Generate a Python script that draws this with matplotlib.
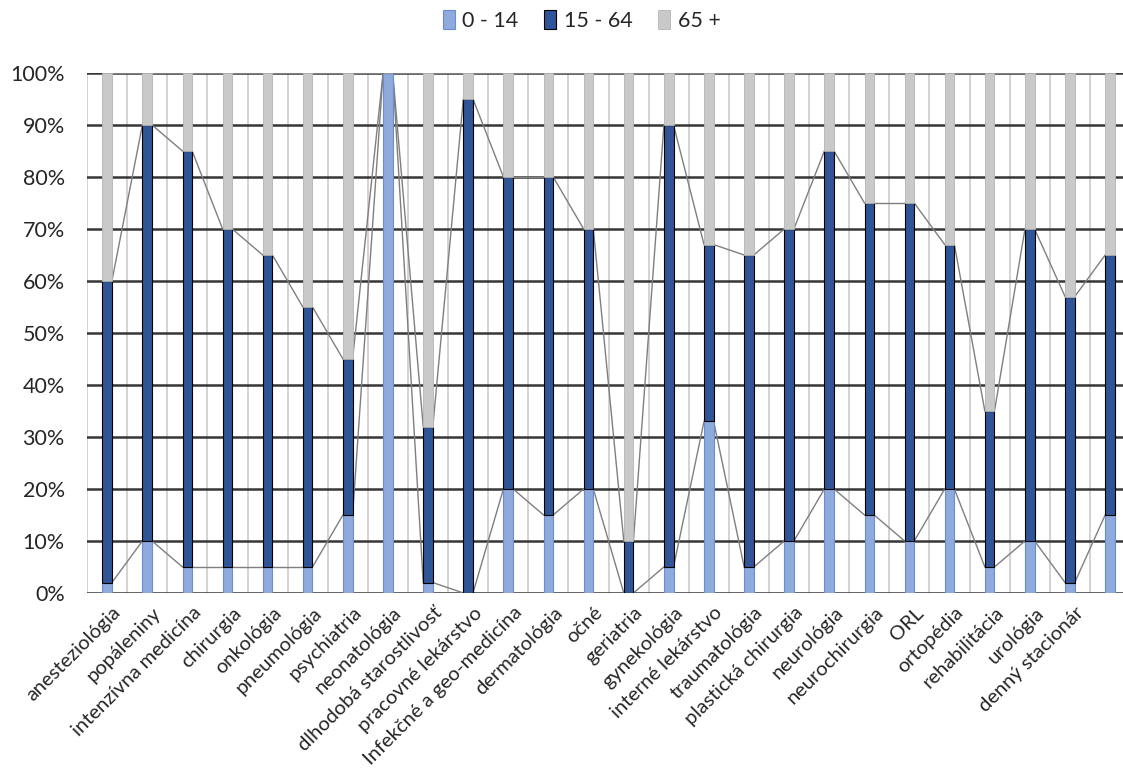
import matplotlib
matplotlib.use('Agg')
import matplotlib.pyplot as plt
import matplotlib.transforms as mtransforms
import numpy as np

plt.rcParams['font.family'] = ['Lato', 'DejaVu Sans']

# categories (last bar has no label in the original)
categories = ['anesteziológia', 'popáleniny', 'intenzívna medicína', 'chirurgia',
              'onkológia', 'pneumológia', 'psychiatria', 'neonatológia',
              'dlhodobá starostlivosť', 'pracovné lekárstvo', 'Infekčné a geo-medicína',
              'dermatológia', 'očné', 'geriatria', 'gynekológia', 'interné lekárstvo',
              'traumatológia', 'plastická chirurgia', 'neurológia', 'neurochirurgia',
              'ORL', 'ortopédia', 'rehabilitácia', 'urológia', 'denný stacionár', '']
age_0_14 = [2, 10, 5, 5, 5, 5, 15, 100, 2, 0, 20, 15, 20, 0, 5, 33, 5, 10, 20, 15,
            10, 20, 5, 10, 2, 15]
age_15_64 = [58, 80, 80, 65, 60, 50, 30, 0, 30, 95, 60, 65, 50, 10, 85, 34, 60, 60,
             65, 60, 65, 47, 30, 60, 55, 50]
age_65 = [40, 10, 15, 30, 35, 45, 55, 0, 68, 5, 20, 20, 30, 90, 10, 33, 35, 30, 15,
          25, 25, 33, 65, 30, 43, 35]
series_names = ['0 - 14', '15 - 64', '65 +']

c_light = '#8FAADC'
c_dark = '#2F5597'
c_gray = '#C9C9C9'


def main():
    fig = plt.figure(figsize=(11.23, 7.71), dpi=100)
    ax = fig.add_axes([0.0775, 0.2309, 0.9288, 0.6744])

    n = len(categories)
    x = np.arange(n)
    w = 0.24
    a = np.array(age_0_14, dtype=float)
    b = np.array(age_15_64, dtype=float)
    c = np.array(age_65, dtype=float)

    ax.bar(x, a, w, color=c_light, edgecolor='#6A8FD0', linewidth=0.8, zorder=3,
           label=series_names[0])
    ax.bar(x, b, w, bottom=a, color=c_dark, edgecolor='black', linewidth=0.8, zorder=3,
           label=series_names[1])
    ax.bar(x, c, w, bottom=a + b, color=c_gray, edgecolor='#B5B5B5', linewidth=0.6,
           zorder=3, label=series_names[2])

    # series lines between the bars
    levels = [a, a + b, a + b + c]
    for lev in levels:
        for i in range(n - 1):
            ax.plot([i + w / 2, i + 1 - w / 2], [lev[i], lev[i + 1]],
                    color='#7F7F7F', linewidth=1.0, zorder=2.5)

    # grid
    for yv in np.arange(0, 101, 10):
        ax.axhline(yv, color='#363636', linewidth=1.8, zorder=1)
    for xv in np.arange(n + 1) - 0.5:
        ax.axvline(xv, color='#C8C8C8', linewidth=1.1, zorder=0.5)

    ax.set_xlim(-0.5, n - 0.5)
    ax.set_ylim(0, 100)
    for s in ax.spines.values():
        s.set_visible(False)

    ax.set_yticks(np.arange(0, 101, 10))
    ax.set_yticklabels(['%d%%' % v for v in range(0, 101, 10)], fontsize=15.5, color='#262626')
    ax.tick_params(axis='y', length=0, pad=16)

    ax.set_xticks(x)
    ax.set_xticklabels(categories, rotation=45, ha='right', va='top',
                       rotation_mode='anchor', fontsize=14.5, color='#262626')
    ax.tick_params(axis='x', length=0, pad=8)
    offset = mtransforms.ScaledTranslation(5 / 100, 0, fig.dpi_scale_trans)
    for lbl in ax.get_xticklabels():
        lbl.set_transform(lbl.get_transform() + offset)

    ax.legend(loc='center', bbox_to_anchor=(0.518, 0.974), bbox_transform=fig.transFigure,
              ncol=3, frameon=False, fontsize=15.5, handlelength=0.55, handleheight=1.0,
              handletextpad=0.35, columnspacing=1.2, labelcolor='#262626')

    plt.savefig('out.png', dpi=100)
    plt.close()


if __name__ == '__main__':
    main()
